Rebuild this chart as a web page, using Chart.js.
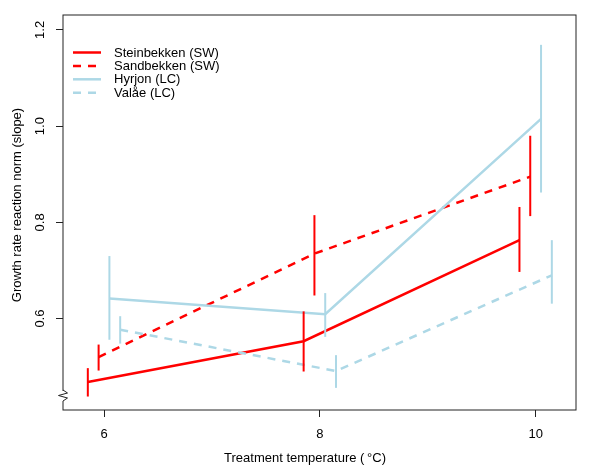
<!DOCTYPE html>
<html>
<head>
<meta charset="utf-8">
<script src="https://cdn.jsdelivr.net/npm/chart.js@4"></script>
<style>
  body { margin: 0; background: #fff; }
  canvas { display: block; }
</style>
</head>
<body>
<canvas id="normChart" width="600" height="474"></canvas>
<script>
// data
const temps = [6, 8, 10];
const xTicks = [6, 8, 10];
const yTicks = [0.6, 0.8, 1.0, 1.2];
const populations = ['Steinbekken (SW)', 'Sandbekken (SW)', 'Hyrjon (LC)', 'Valåe (LC)'];
const dodge = [-0.15, -0.05, 0.05, 0.15];

const steinbekken = [0.468, 0.553, 0.763];
const steinbekkenLo = [0.438, 0.490, 0.697];
const steinbekkenHi = [0.497, 0.615, 0.832];

const sandbekken = [0.520, 0.735, 0.895];
const sandbekkenLo = [0.492, 0.648, 0.813];
const sandbekkenHi = [0.546, 0.815, 0.980];

const hyrjon = [0.642, 0.609, 1.015];
const hyrjonLo = [0.556, 0.562, 0.862];
const hyrjonHi = [0.730, 0.653, 1.169];

const valae = [0.577, 0.491, 0.690];
const valaeLo = [0.548, 0.456, 0.631];
const valaeHi = [0.605, 0.524, 0.763];

const means = [steinbekken, sandbekken, hyrjon, valae];
const lows = [steinbekkenLo, sandbekkenLo, hyrjonLo, valaeLo];
const highs = [steinbekkenHi, sandbekkenHi, hyrjonHi, valaeHi];
const colours = ['#ff0000', '#ff0000', '#add8e6', '#add8e6'];
const dashes = [[], [8, 7], [], [8, 7]];

const FONT = '"Liberation Sans", Arial, Helvetica, sans-serif';

function xy(series, i) {
    return temps.map((t, k) => ({ x: t + dodge[i], y: series[k] }));
}

const datasets = populations.map((name, i) => ({
    label: name,
    data: xy(means[i], i),
    showLine: true,
    borderColor: colours[i],
    borderWidth: 2.5,
    borderDash: dashes[i],
    pointRadius: 0,
    fill: false,
    tension: 0,
    order: 4 - i
}));

// error bars, box, axis labels and legend
const extras = {
    id: 'extras',
    afterDatasetsDraw(chart) {
        const ctx = chart.ctx;
        const xs = chart.scales.x;
        const ys = chart.scales.y;
        const area = chart.chartArea;

        ctx.save();
        ctx.beginPath();
        ctx.rect(area.left, area.top, area.right - area.left, area.bottom - area.top);
        ctx.clip();
        for (let i = 0; i < populations.length; i++) {
            ctx.strokeStyle = colours[i];
            ctx.lineWidth = 2;
            ctx.setLineDash([]);
            for (let k = 0; k < temps.length; k++) {
                const px = xs.getPixelForValue(temps[k] + dodge[i]);
                ctx.beginPath();
                ctx.moveTo(px, ys.getPixelForValue(lows[i][k]));
                ctx.lineTo(px, ys.getPixelForValue(highs[i][k]));
                ctx.stroke();
            }
        }
        ctx.restore();

        ctx.save();
        // box
        ctx.strokeStyle = '#222';
        ctx.lineWidth = 1;
        ctx.strokeRect(area.left, area.top, area.right - area.left, area.bottom - area.top);

        // axis break zigzag
        const bx = area.left;
        const by = 390;
        ctx.fillStyle = '#fff';
        ctx.fillRect(bx - 2, by + 1, 4, 10);
        ctx.beginPath();
        ctx.moveTo(bx, by);
        ctx.lineTo(bx + 4.5, by + 3);
        ctx.lineTo(bx - 4.5, by + 5.5);
        ctx.lineTo(bx + 4.5, by + 8);
        ctx.lineTo(bx, by + 11);
        ctx.stroke();

        // tick labels
        ctx.fillStyle = '#000';
        ctx.font = '13px ' + FONT;
        ctx.textAlign = 'center';
        ctx.textBaseline = 'middle';
        xTicks.forEach(v => {
            ctx.fillText(String(v), xs.getPixelForValue(v), 434);
        });
        yTicks.forEach(v => {
            ctx.save();
            ctx.translate(40, ys.getPixelForValue(v));
            ctx.rotate(-Math.PI / 2);
            ctx.fillText(v.toFixed(1), 0, 0);
            ctx.restore();
        });

        // axis titles
        ctx.fillText('Treatment temperature (\u2009°C)', 305, 458);
        ctx.save();
        ctx.translate(17, 205);
        ctx.rotate(-Math.PI / 2);
        ctx.fillText('Growth rate reaction norm (slope)', 0, 0);
        ctx.restore();

        // legend
        ctx.textAlign = 'left';
        populations.forEach((name, i) => {
            const ry = 52.5 + i * 13.4;
            ctx.strokeStyle = colours[i];
            ctx.lineWidth = 2.5;
            ctx.setLineDash(dashes[i]);
            ctx.beginPath();
            ctx.moveTo(73, ry);
            ctx.lineTo(101, ry);
            ctx.stroke();
            ctx.setLineDash([]);
            ctx.fillStyle = '#000';
            ctx.fillText(name, 114, ry + 0.5);
        });
        ctx.restore();
    }
};

new Chart(document.getElementById('normChart'), {
    type: 'scatter',
    data: { datasets: datasets },
    options: {
        responsive: false,
        animation: false,
        devicePixelRatio: 1,
        layout: { padding: { top: 15, right: 24, left: 0, bottom: 0 } },
        plugins: {
            legend: { display: false },
            tooltip: { enabled: false }
        },
        scales: {
            x: {
                type: 'linear',
                min: 5.62,
                max: 10.374,
                afterBuildTicks: s => { s.ticks = xTicks.map(v => ({ value: v })); },
                afterFit: s => { s.height = 64; },
                ticks: { display: false },
                border: { display: false },
                grid: { drawOnChartArea: false, drawTicks: true, tickLength: 7, color: '#222', lineWidth: 1 }
            },
            y: {
                type: 'linear',
                min: 0.41,
                max: 1.231,
                afterBuildTicks: s => { s.ticks = yTicks.map(v => ({ value: v })); },
                afterFit: s => { s.width = 63; },
                ticks: { display: false },
                border: { display: false },
                grid: { drawOnChartArea: false, drawTicks: true, tickLength: 7, color: '#222', lineWidth: 1 }
            }
        }
    },
    plugins: [extras]
});
</script>
</body>
</html>
